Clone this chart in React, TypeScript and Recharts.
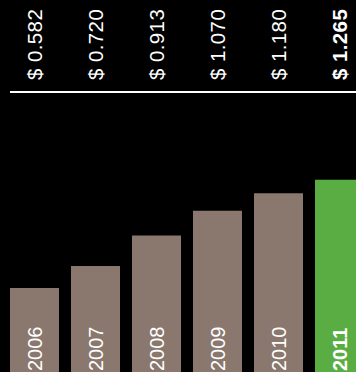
import React from 'react';
import { BarChart, Bar, XAxis, YAxis, Cell, LabelList } from 'recharts';

const years = ['2006', '2007', '2008', '2009', '2010', '2011'];
const values = [0.582, 0.72, 0.913, 1.07, 1.18, 1.265];
const valueLabels = ['$ 0.582', '$ 0.720', '$ 0.913', '$ 1.070', '$ 1.180', '$ 1.265'];
const highlightIndex = 5;

const data = years.map((year, i) => ({ year, value: values[i] }));

const FONT = '"Liberation Sans", Arial, Helvetica, sans-serif';
const BAR_COLOR = '#8a786e';
const HIGHLIGHT_COLOR = '#5aad43';

const TopTick = (props: any) => {
  const { x, index } = props;
  const tx = x + 7;
  const ty = 80;
  return (
    <text
      x={tx}
      y={ty}
      transform={`rotate(-90, ${tx}, ${ty})`}
      textAnchor="start"
      fill="#fff"
      fontSize={20.5}
      letterSpacing={0.4}
      fontFamily={FONT}
      fontWeight={index === highlightIndex ? 'bold' : 'normal'}
    >
      {valueLabels[index]}
    </text>
  );
};

const YearLabel = (props: any) => {
  const { x, y, width, height, index } = props;
  const tx = x + width / 2 + 7;
  const ty = y + height - 9;
  return (
    <text
      x={tx}
      y={ty}
      transform={`rotate(-90, ${tx}, ${ty})`}
      textAnchor="start"
      fill="#fff"
      fontSize={20}
      fontFamily={FONT}
      fontWeight={index === highlightIndex ? 'bold' : 'normal'}
    >
      {years[index]}
    </text>
  );
};

export default function App() {
  return (
    <div
      style={{
        position: 'fixed',
        top: 0,
        left: 0,
        width: 356,
        height: 372,
        overflow: 'hidden',
        background: '#000',
      }}
    >
      <BarChart
        width={370}
        height={380}
        data={data}
        margin={{ top: 0, right: 0, left: 10, bottom: 0 }}
      >
        <XAxis xAxisId="bottom" dataKey="year" hide padding={{ left: -6, right: 0 }} />
        <XAxis
          xAxisId="top"
          dataKey="year"
          orientation="top"
          height={92}
          padding={{ left: -6, right: 0 }}
          tickLine={false}
          axisLine={{ stroke: '#fff', strokeWidth: 2 }}
          tick={<TopTick />}
          interval={0}
        />
        <YAxis hide domain={[0, 1.82]} />
        <Bar dataKey="value" xAxisId="bottom" barSize={49} isAnimationActive={false}>
          {data.map((d, i) => (
            <Cell key={d.year} fill={i === highlightIndex ? HIGHLIGHT_COLOR : BAR_COLOR} />
          ))}
          <LabelList dataKey="year" content={<YearLabel />} />
        </Bar>
      </BarChart>
    </div>
  );
}
